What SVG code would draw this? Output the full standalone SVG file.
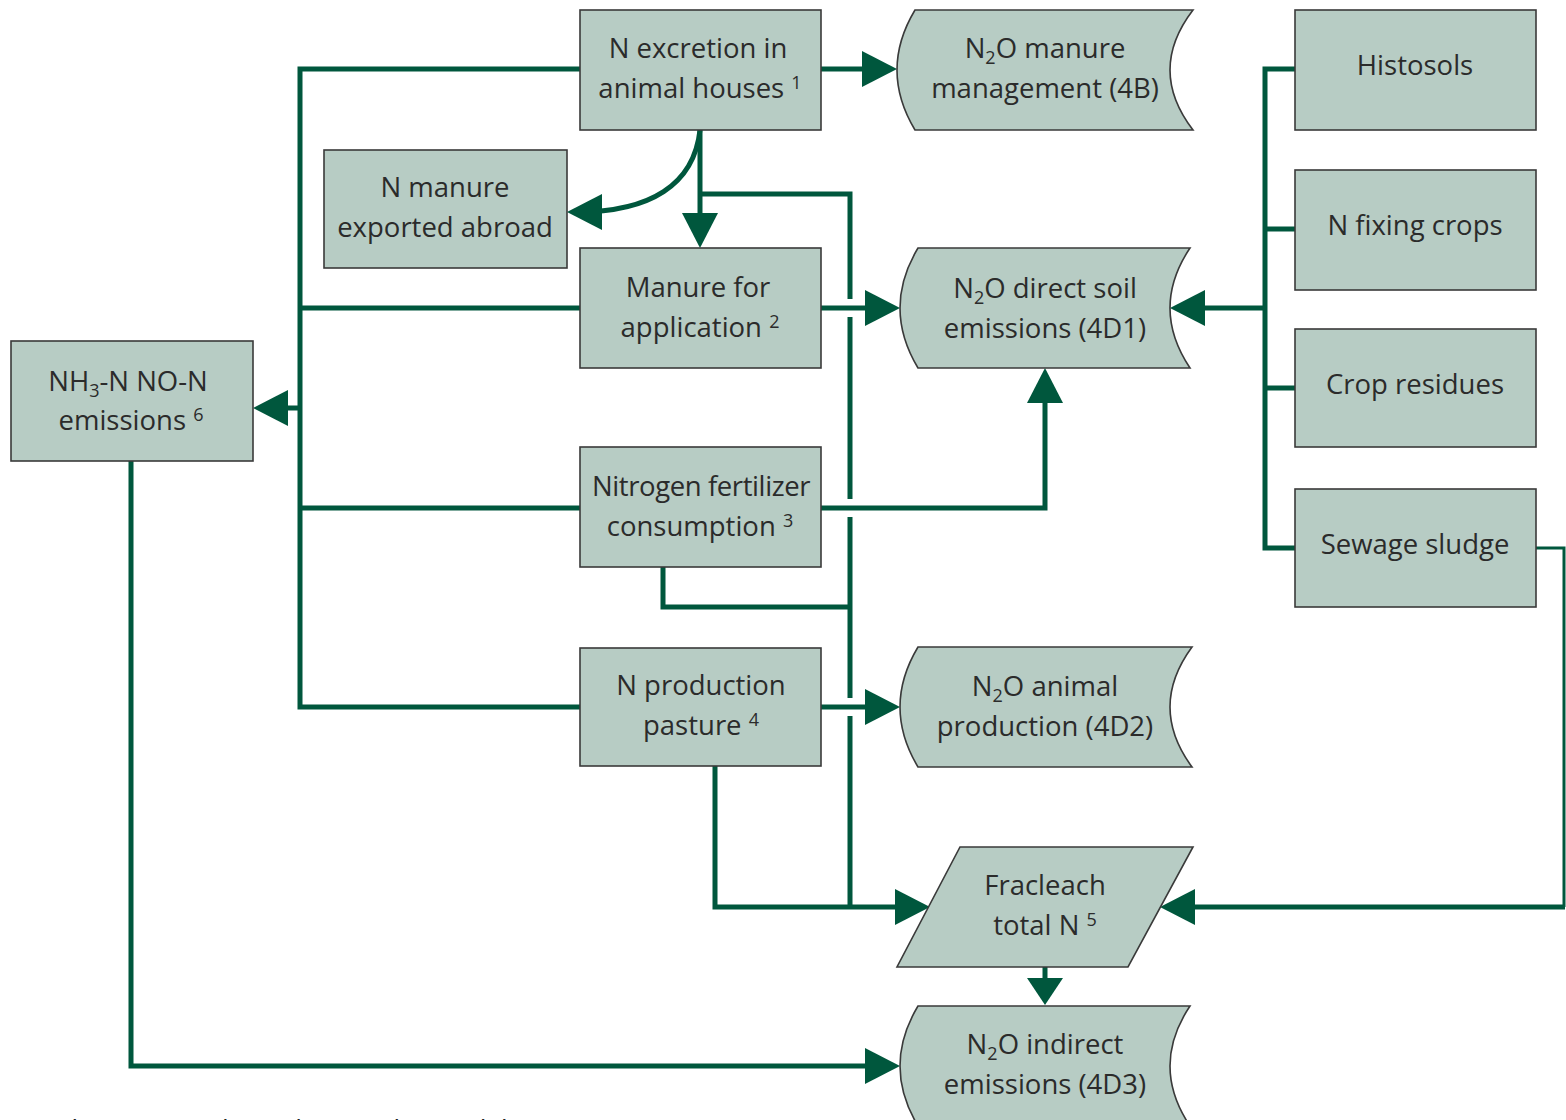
<svg xmlns="http://www.w3.org/2000/svg" width="1566" height="1120" viewBox="0 0 1566 1120">
<style>
.box{fill:#b7ccc4;stroke:#3a3a3a;stroke-width:1.6}
.t{font-family:"Open Sans","Noto Sans","DejaVu Sans",sans-serif;font-size:27.5px;fill:#2b2b2b;text-anchor:middle}
.c{fill:none;stroke:#00573d;stroke-width:5;stroke-linejoin:miter;stroke-linecap:butt}
.thin{fill:none;stroke:#00573d;stroke-width:3}
.sub{font-size:18px}
</style>
<defs>
<marker id="arr" markerUnits="userSpaceOnUse" markerWidth="36" markerHeight="36" refX="25" refY="18" orient="auto">
<path d="M0,0 L35,18 L0,36 Z" fill="#00573d"/>
</marker>
<marker id="arrS" markerUnits="userSpaceOnUse" markerWidth="28" markerHeight="36" refX="18" refY="18" orient="auto">
<path d="M0,0 L27,18 L0,36 Z" fill="#00573d"/>
</marker>
</defs>

<g id="connectors">
<path class="c" d="M580,69 H300 V707 H580"/>
<path class="c" d="M300,308 H580"/>
<path class="c" d="M300,508 H580"/>
<path class="c" d="M300,408 H263" marker-end="url(#arr)"/>
<path class="c" d="M821,69 H887" marker-end="url(#arr)"/>
<path class="c" d="M700,130 C694,185 650,212 577,212" marker-end="url(#arr)"/>
<path class="c" d="M700,130 V238" marker-end="url(#arr)"/>
<path class="c" d="M700,194 H850 V299"/>
<path class="c" d="M850,317 V499"/>
<path class="c" d="M850,517 V698"/>
<path class="c" d="M850,716 V907"/>
<path class="c" d="M821,308 H890" marker-end="url(#arr)"/>
<path class="c" d="M821,508 H1045 V378" marker-end="url(#arr)"/>
<path class="c" d="M663,567 V607 H850"/>
<path class="c" d="M821,707 H890" marker-end="url(#arr)"/>
<path class="c" d="M715,766 V907 H920" marker-end="url(#arr)"/>
<path class="c" d="M1295,69 H1265 V548 H1295"/>
<path class="c" d="M1265,229 H1295"/>
<path class="c" d="M1265,388 H1295"/>
<path class="c" d="M1265,308 H1180" marker-end="url(#arr)"/>
<path class="thin" d="M1536,548 H1564 V907"/>
<path class="c" d="M1565,907 H1170" marker-end="url(#arr)"/>
<path class="c" d="M1045,967 V996" marker-end="url(#arrS)"/>
<path class="c" d="M131,461 V1066 H890" marker-end="url(#arr)"/>
</g>

<g id="n-excretion">
<rect class="box" x="580" y="10" width="241" height="120"/>
<text class="t" x="698" y="58">N excretion in</text>
<text class="t" x="700" y="98">animal houses <tspan class="sub" dy="-9">1</tspan></text>
</g>
<g id="n-manure-exported">
<rect class="box" x="324" y="150" width="243" height="118"/>
<text class="t" x="445" y="197">N manure</text>
<text class="t" x="445" y="237">exported abroad</text>
</g>
<g id="manure-application">
<rect class="box" x="580" y="248" width="241" height="120"/>
<text class="t" x="698" y="297">Manure for</text>
<text class="t" x="700" y="337">application <tspan class="sub" dy="-9">2</tspan></text>
</g>
<g id="nitrogen-fertilizer">
<rect class="box" x="580" y="447" width="241" height="120"/>
<text class="t" x="701" y="496" letter-spacing="-0.4">Nitrogen fertilizer</text>
<text class="t" x="700" y="536">consumption <tspan class="sub" dy="-9">3</tspan></text>
</g>
<g id="n-production-pasture">
<rect class="box" x="580" y="648" width="241" height="118"/>
<text class="t" x="701" y="695">N production</text>
<text class="t" x="701" y="735">pasture <tspan class="sub" dy="-9">4</tspan></text>
</g>
<g id="nh3-emissions">
<rect class="box" x="11" y="341" width="242" height="120"/>
<text class="t" x="128" y="391">NH<tspan class="sub" dy="6">3</tspan><tspan dy="-6">-N NO-N</tspan></text>
<text class="t" x="131" y="430">emissions <tspan class="sub" dy="-9">6</tspan></text>
</g>

<g id="n2o-manure-management">
<path class="box" d="M915,10 L1193,10 Q1147,70 1193,130 L915,130 Q879,70 915,10 Z"/>
<text class="t" x="1045" y="58">N<tspan class="sub" dy="6">2</tspan><tspan dy="-6">O manure</tspan></text>
<text class="t" x="1045" y="98">management (4B)</text>
</g>
<g id="n2o-direct-soil">
<path class="box" d="M918,248 L1190,248 Q1150,308 1190,368 L918,368 Q882,308 918,248 Z"/>
<text class="t" x="1045" y="298">N<tspan class="sub" dy="6">2</tspan><tspan dy="-6">O direct soil</tspan></text>
<text class="t" x="1045" y="338">emissions (4D1)</text>
</g>
<g id="n2o-animal-production">
<path class="box" d="M918,647 L1192,647 Q1148,707 1192,767 L918,767 Q882,707 918,647 Z"/>
<text class="t" x="1045" y="696">N<tspan class="sub" dy="6">2</tspan><tspan dy="-6">O animal</tspan></text>
<text class="t" x="1045" y="736">production (4D2)</text>
</g>
<g id="fracleach">
<path class="box" d="M960,847 L1193,847 L1128,967 L897,967 Z"/>
<text class="t" x="1045" y="895">Fracleach</text>
<text class="t" x="1045" y="935">total N <tspan class="sub" dy="-9">5</tspan></text>
</g>
<g id="n2o-indirect">
<path class="box" d="M918,1006 L1190,1006 Q1150,1066 1190,1126 L918,1126 Q882,1066 918,1006 Z"/>
<text class="t" x="1045" y="1054">N<tspan class="sub" dy="6">2</tspan><tspan dy="-6">O indirect</tspan></text>
<text class="t" x="1045" y="1094">emissions (4D3)</text>
</g>

<g id="histosols">
<rect class="box" x="1295" y="10" width="241" height="120"/>
<text class="t" x="1415" y="75">Histosols</text>
</g>
<g id="n-fixing-crops">
<rect class="box" x="1295" y="170" width="241" height="120"/>
<text class="t" x="1415" y="235">N fixing crops</text>
</g>
<g id="crop-residues">
<rect class="box" x="1295" y="329" width="241" height="118"/>
<text class="t" x="1415" y="394">Crop residues</text>
</g>
<g id="sewage-sludge">
<rect class="box" x="1295" y="489" width="241" height="118"/>
<text class="t" x="1415" y="554">Sewage sludge</text>
</g>

<text font-family="'Open Sans','Noto Sans',sans-serif" font-size="26" fill="#222" x="12" y="1138">Numbers 1 - 6 indicated are in the model</text>
</svg>
